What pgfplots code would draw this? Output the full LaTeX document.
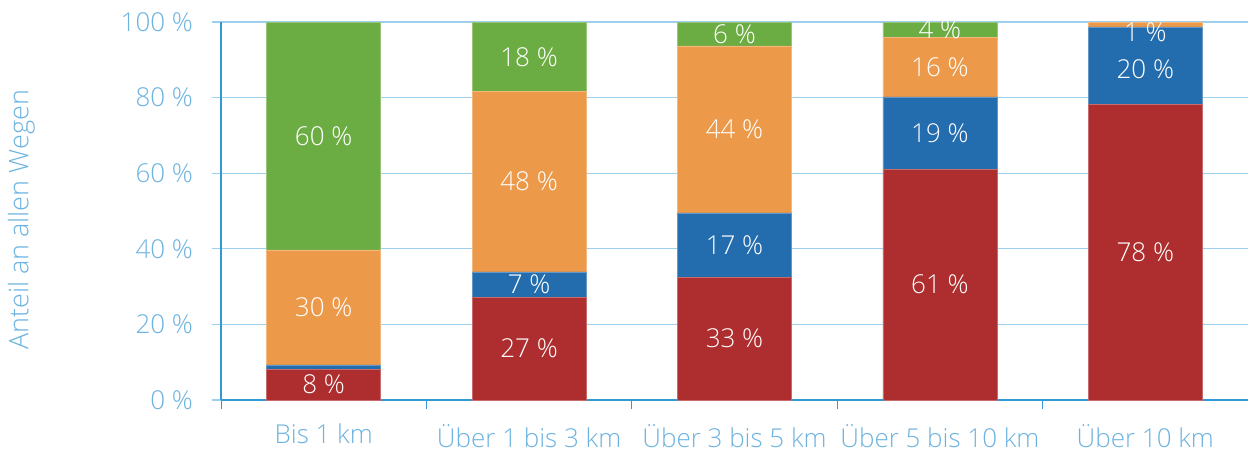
\documentclass[border=0pt]{standalone}
\usepackage{fontspec}
\setmainfont{Open Sans}[UprightFont={* Light}]
\usepackage{pgfplots}
\pgfplotsset{compat=1.18}
\definecolor{cred}{HTML}{AE2D2E}
\definecolor{cblue}{HTML}{236CAE}
\definecolor{corange}{HTML}{EC9A4A}
\definecolor{cgreen}{HTML}{6CAD43}
\definecolor{ctext}{HTML}{6DB3E0}
\definecolor{cgrid}{HTML}{9DD0EE}
\definecolor{caxis}{HTML}{3399D6}
\begin{document}
\begin{tikzpicture}
\pgfplotsset{
  common/.style={
    scale only axis, width=513.5pt, height=189pt,
    xmin=-0.5, xmax=4.5, ymin=0, ymax=100,
  }
}
\begin{axis}[common,
  ybar stacked, bar width=57pt,
  axis x line*=bottom, axis y line*=left,
  axis line style={caxis, line width=0.6pt},
  xtick={0,1,2,3,4},
  xticklabels={Bis 1 km,Über 1 bis 3 km,Über 3 bis 5 km,Über 5 bis 10 km,Über 10 km},
  minor xtick={-0.5,0.5,1.5,2.5,3.5},
  major x tick style={draw=none},
  minor x tick style={caxis, line width=0.4pt},
  minor tick length=4.5pt,
  ytick={0,20,40,60,80,100},
  yticklabels={0 \%,20 \%,40 \%,60 \%,80 \%,100 \%},
  major y tick style={cgrid, line width=0.6pt},
  major tick length=4.5pt,
  tick align=outside,
  ymajorgrids, grid style={cgrid, line width=0.6pt},
  ticklabel style={font=\fontsize{13}{15}\selectfont, text=ctext},
  yticklabel style={xshift=-6pt},
  xticklabel style={yshift=-4pt},
  ylabel={Anteil an allen Wegen},
  ylabel style={font=\fontsize{13.5}{15}\selectfont, text=ctext, at={(ticklabel cs:0.5)}, yshift=36pt, xshift=-4.5pt},
  axis on top=false,
]
\addplot[fill=cred, draw=cred!70!white, line width=0.3pt] coordinates {(0,8.2) (1,27.2) (2,32.5) (3,61.1) (4,78.3)};
\addplot[fill=cblue, draw=cblue!70!white, line width=0.3pt] coordinates {(0,1.1) (1,6.7) (2,17.0) (3,19.1) (4,20.4)};
\addplot[fill=corange, draw=corange!70!white, line width=0.3pt] coordinates {(0,30.4) (1,47.8) (2,44.2) (3,15.8) (4,1.3)};
\addplot[fill=cgreen, draw=cgreen!70!white, line width=0.3pt] coordinates {(0,60.3) (1,18.3) (2,6.3) (3,4.0) (4,0)};
\end{axis}
\begin{axis}[common, hide axis]
\addplot[draw=none, mark=none, nodes near coords, point meta=explicit symbolic,
  nodes near coords align=center,
  every node near coord/.append style={anchor=center, text=white, font=\fontsize{13}{15}\selectfont}]
  coordinates {
   (0,4.1) [8 \%]
   (0,24.5) [30 \%]
   (0,69.8) [60 \%]
   (1,13.6) [27 \%]
   (1,30.5) [7 \%]
   (1,57.8) [48 \%]
   (1,90.8) [18 \%]
   (2,16.3) [33 \%]
   (2,41.0) [17 \%]
   (2,71.6) [44 \%]
   (2,96.9) [6 \%]
   (3,30.6) [61 \%]
   (3,70.7) [19 \%]
   (3,88.1) [16 \%]
   (3,98.2) [4 \%]
   (4,39.2) [78 \%]
   (4,87.4) [20 \%]
   (4,97.3) [1 \%]
  };
\end{axis}
\pgfresetboundingbox
\path[use as bounding box] (-110.5pt,-26pt) rectangle (513.5pt,200pt);
\end{tikzpicture}
\end{document}
